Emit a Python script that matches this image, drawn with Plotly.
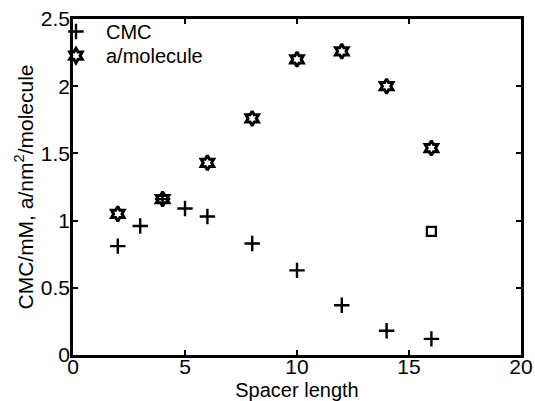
import plotly.graph_objects as go

spacer_cmc = [2, 3, 4, 5, 6, 8, 10, 12, 14, 16]
cmc = [0.81, 0.96, 1.16, 1.09, 1.03, 0.83, 0.63, 0.37, 0.18, 0.12]

spacer_area = [2, 4, 6, 8, 10, 12, 14, 16]
area = [1.05, 1.16, 1.43, 1.76, 2.20, 2.26, 2.00, 1.54]

spacer_sq = [16]
sq_val = [0.92]

x_ticks = [0, 5, 10, 15, 20]
y_ticks = [0, 0.5, 1, 1.5, 2, 2.5]
y_tick_text = ["0", "0.5", "1", "1.5", "2", "2.5"]

font = "Liberation Sans, Arial, Helvetica, sans-serif"

fig = go.Figure()
fig.add_trace(go.Scatter(
    x=spacer_cmc, y=cmc, mode="markers", name="CMC", legend="legend",
    marker=dict(symbol="cross-thin-open", size=11, color="black",
                line=dict(color="black", width=2.4)),
))
fig.add_trace(go.Scatter(
    x=spacer_area, y=area, mode="markers", name="a/molecule", legend="legend2",
    marker=dict(symbol="hexagram-open", size=11, color="black",
                line=dict(color="black", width=3)),
))
fig.add_trace(go.Scatter(
    x=spacer_sq, y=sq_val, mode="markers", name="square", showlegend=False,
    marker=dict(symbol="square-open", size=9, color="black",
                line=dict(color="black", width=2.2)),
))

leg_common = dict(xanchor="left", yanchor="top", bgcolor="rgba(0,0,0,0)",
                  borderwidth=0, font=dict(size=20), itemwidth=50)

fig.update_layout(
    width=535, height=401,
    margin=dict(l=73, r=14, t=19, b=46),
    paper_bgcolor="white", plot_bgcolor="white",
    font=dict(family=font, size=20, color="black"),
    showlegend=True,
    legend=dict(x=-0.0603, y=1.021, **leg_common),
    legend2=dict(x=-0.0603, y=0.949, **leg_common),
    xaxis=dict(range=[0, 20], tickvals=x_ticks, ticks="inside", ticklen=5,
               tickwidth=1.5, tickcolor="black", showline=True, linewidth=2.5,
               linecolor="black", mirror="allticks", showgrid=False,
               zeroline=False, tickfont=dict(size=21), automargin=False,
               ticklabelstandoff=-9,
               title=dict(text="Spacer length", font=dict(size=20), standoff=7)),
    yaxis=dict(range=[0, 2.5], tickvals=y_ticks, ticktext=y_tick_text,
               ticks="inside", ticklen=5, tickwidth=1.5, tickcolor="black",
               showline=True, linewidth=2.5, linecolor="black",
               mirror="allticks", showgrid=False, zeroline=False,
               tickfont=dict(size=21), automargin=False,
               ticklabelstandoff=-4,
               title=dict(text="CMC/mM, a/nm<sup>2</sup>/molecule",
                          font=dict(size=21), standoff=2)),
)

fig.write_html("out.html", config={"displayModeBar": False},
               post_script="document.body.style.margin='0px';")
